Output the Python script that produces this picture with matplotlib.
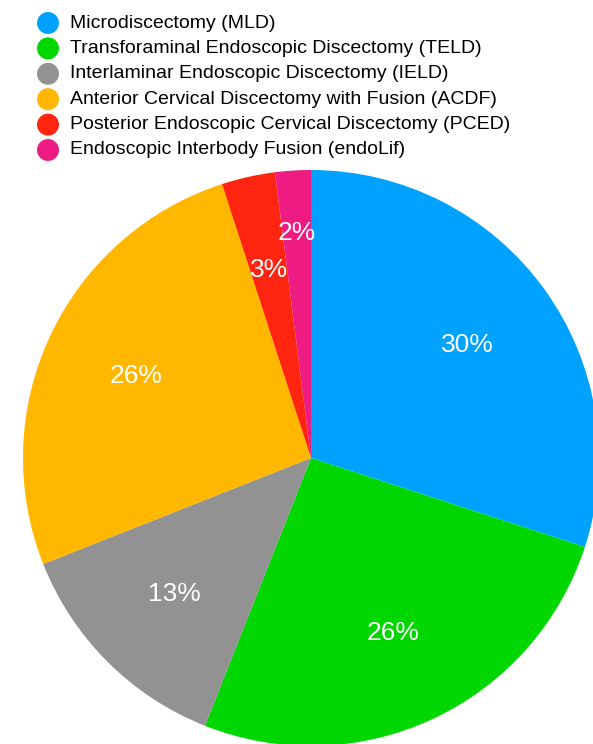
import matplotlib
matplotlib.use("Agg")
import matplotlib.pyplot as plt

categories = [
    "Microdiscectomy (MLD)",
    "Transforaminal Endoscopic Discectomy (TELD)",
    "Interlaminar Endoscopic Discectomy (IELD)",
    "Anterior Cervical Discectomy with Fusion (ACDF)",
    "Posterior Endoscopic Cervical Discectomy (PCED)",
    "Endoscopic Interbody Fusion (endoLif)",
]
values = [30, 26, 13, 26, 3, 2]
colors = ["#00A2FF", "#00D600", "#929292", "#FFB700", "#FF2511", "#EE1B82"]

plt.rcParams['font.family'] = ['Liberation Sans', 'DejaVu Sans']

W, H = 593, 744
fig = plt.figure(figsize=(W / 100, H / 100), dpi=100)
ax = fig.add_axes([0, 0, 1, 1])

cx, cy, R = 311, H - 458, 288
wedges, texts, autotexts = ax.pie(
    values, colors=colors, startangle=90, counterclock=False,
    center=(cx, cy), radius=R, autopct='%d%%', pctdistance=0.67,
    textprops=dict(color='white', fontsize=19),
    wedgeprops=dict(linewidth=0), frame=True)
ax.set_xlim(0, W)
ax.set_ylim(0, H)
ax.set_aspect('equal')
ax.axis('off')

# push the small 2% label outward a bit like in the reference
x, y = autotexts[5].get_position()
autotexts[5].set_position((cx + (x - cx) * 1.17, cy + (y - cy) * 1.17))

for i, (lab, col) in enumerate(zip(categories, colors)):
    yy = H - (23 + 25.4 * i)
    ax.scatter([48], [yy], s=250, color=col, edgecolors='none', zorder=5)
    ax.text(70, yy, lab, fontsize=14, va='center', ha='left', color='black')

fig.savefig("out.png", dpi=100)
